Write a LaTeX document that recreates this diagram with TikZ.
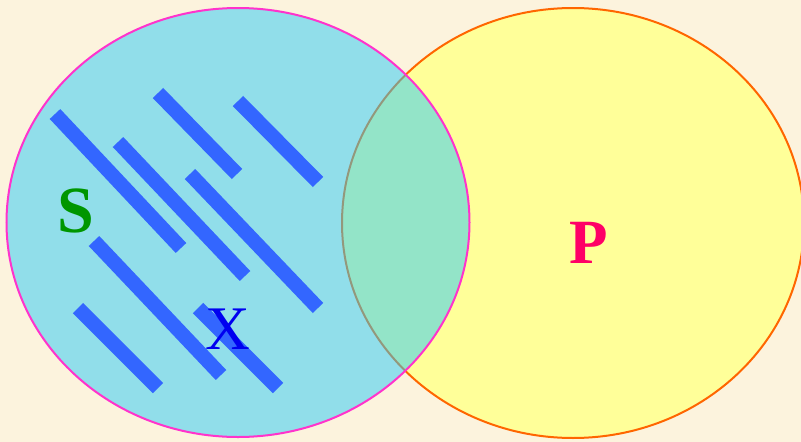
\documentclass[tikz,border=0pt]{standalone}
\usepackage{fontspec}
\setmainfont{Liberation Serif}
\definecolor{bgbeige}{RGB}{252,243,221}
\definecolor{setcyan}{RGB}{40,202,248}
\definecolor{setyellow}{RGB}{255,255,153}
\definecolor{edgemag}{RGB}{255,51,204}
\definecolor{edgeorange}{RGB}{255,102,0}
\definecolor{barblue}{RGB}{51,102,255}
\definecolor{sgreen}{RGB}{0,150,0}
\definecolor{xblue}{RGB}{0,0,240}
\definecolor{pred}{RGB}{255,0,102}
\tikzset{
  bar/.style={draw=barblue, line width=14.5pt, line cap=butt},
  setlabel/.style={inner sep=0pt, outer sep=0pt}
}
\begin{document}
\begin{tikzpicture}[x=1pt,y=-1pt]
\fill[bgbeige] (0,0) rectangle (801,442);
\useasboundingbox (0,0) rectangle (801,442);
% P set
\draw[edgeorange, line width=2pt, fill=setyellow] (573,223) ellipse [x radius=231, y radius=215];
% S set (translucent)
\fill[setcyan, fill opacity=0.5] (238,222.5) ellipse [x radius=231.5, y radius=214.5];
\draw[edgemag, line width=2pt] (238,222.5) ellipse [x radius=231.5, y radius=214.5];
% bars
\draw[bar] (55,114) -- (181,248);
\draw[bar] (118,142) -- (245,276);
\draw[bar] (158,93) -- (237,174);
\draw[bar] (238,101) -- (318,182);
\draw[bar] (190,174) -- (318,308);
\draw[bar] (94,241) -- (221,375);
\draw[bar] (78,308) -- (158,388);
\draw[bar] (198,308) -- (278,388);
% labels
\node[setlabel, text=sgreen] (S) at (75.5,210.5) {\fontsize{66}{70}\selectfont\bfseries S};
\node[setlabel, text=pred] (P) at (588.5,242.5) {\fontsize{63}{67}\selectfont\bfseries P};
\node[setlabel, text=xblue] (X) at (228,329.5) {\fontsize{62}{66}\selectfont X};
\end{tikzpicture}
\end{document}
